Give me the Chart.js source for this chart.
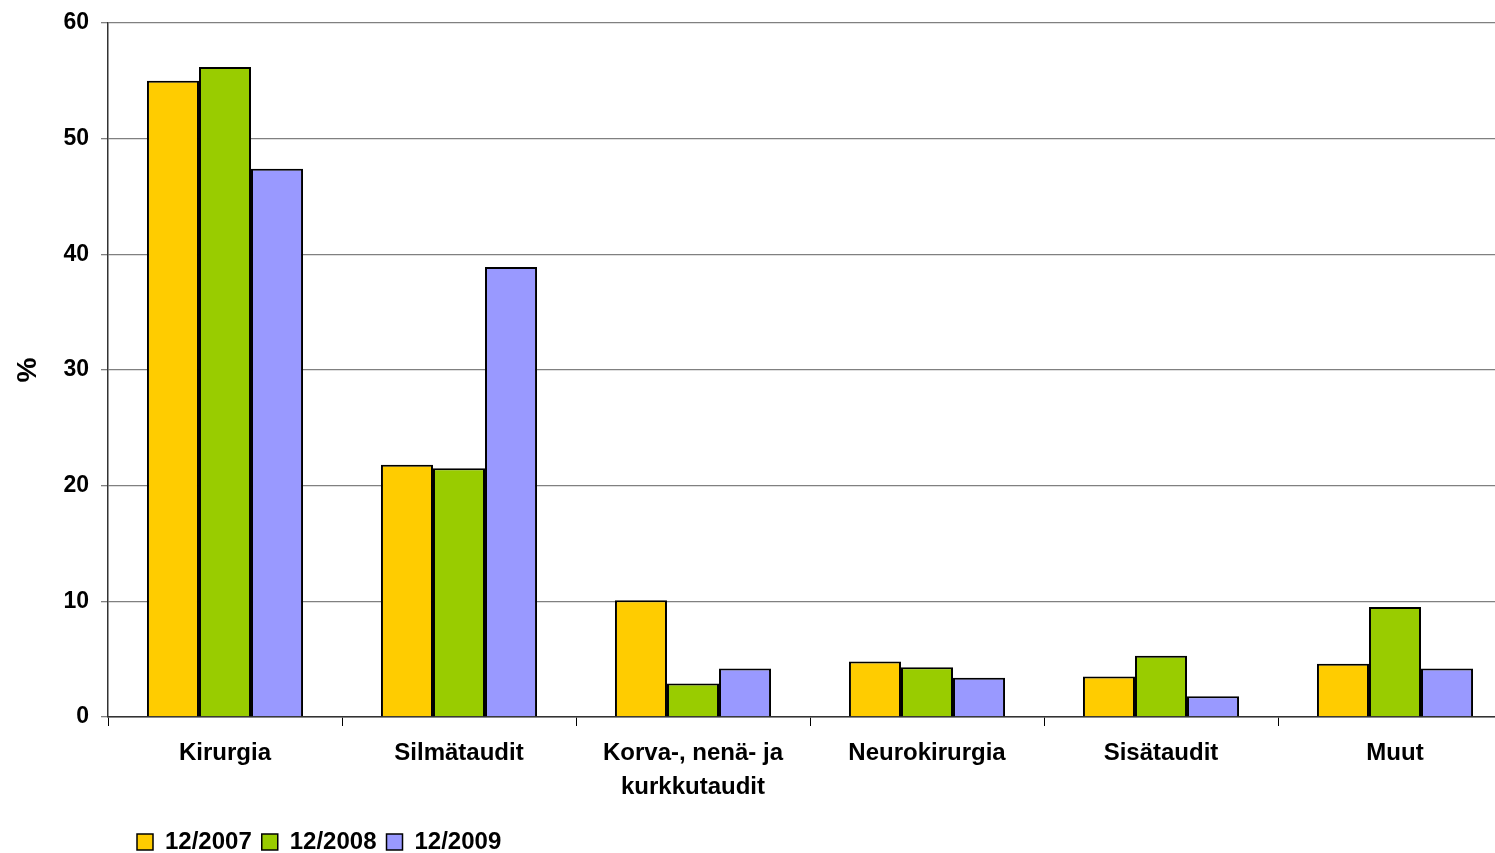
<!DOCTYPE html>
<html lang="fi">
<head>
  <title>Erikoisalat</title>
  <meta charset="utf-8">
  <style>
    html, body { margin: 0; padding: 0; background: #fff; overflow: hidden; }
    #wrap { width: 1495px; height: 853px; overflow: hidden; }
  </style>
</head>
<body>
  <div id="wrap">
    <canvas id="myChart" width="1520" height="864"></canvas>
  </div>

  <script src="https://cdn.jsdelivr.net/npm/chart.js@4/dist/chart.umd.min.js"></script>
  <script>
    // data (%)
    var categories = ['Kirurgia', 'Silmätaudit', ['Korva-, nenä- ja', 'kurkkutaudit'], 'Neurokirurgia', 'Sisätaudit', 'Muut'];
    var seriesNames = ['12/2007', '12/2008', '12/2009'];
    var values2007 = [55.0, 21.8, 10.1, 4.8, 3.5, 4.6];
    var values2008 = [56.2, 21.5, 2.9, 4.3, 5.3, 9.5];
    var values2009 = [47.4, 38.9, 4.2, 3.4, 1.8, 4.2];
    var seriesColors = ['#FFCC00', '#99CC00', '#9999FF'];

    var fontFamily = '"Liberation Sans", Arial, sans-serif';
    var seriesValues = [values2007, values2008, values2009];

    // push the legend right, like in the original sheet
    var legendShift = {
      id: 'legendShift',
      afterLayout: function(chart) {
        chart.legend.left += 127;
      }
    };

    var ctx = document.getElementById('myChart').getContext('2d');
    var chart = new Chart(ctx, {
      type: 'bar',
      data: {
        labels: categories,
        datasets: seriesNames.map(function(name, i) {
          return {
            label: name,
            data: seriesValues[i],
            backgroundColor: seriesColors[i],
            borderColor: '#000',
            borderWidth: 2,
            borderSkipped: 'bottom',
            categoryPercentage: 0.667,
            barPercentage: 1.0
          };
        })
      },
      options: {
        responsive: false,
        animation: false,
        devicePixelRatio: 1,
        layout: { padding: { left: 0, top: 23, right: 8, bottom: 0 } },
        plugins: {
          tooltip: { enabled: false },
          legend: {
            position: 'bottom',
            align: 'start',
            labels: {
              color: '#000',
              font: { family: fontFamily, size: 24, weight: 'bold' },
              boxWidth: 16,
              boxHeight: 16,
              padding: 10,
              generateLabels: function(c) {
                return c.data.datasets.map(function(ds, i) {
                  return {
                    text: ds.label,
                    fillStyle: ds.backgroundColor,
                    strokeStyle: '#000',
                    lineWidth: 1.5,
                    fontColor: '#000',
                    datasetIndex: i
                  };
                });
              }
            }
          }
        },
        scales: {
          x: {
            afterFit: function(scale) {
              scale.height = 103;
              scale.paddingLeft = 0;
              scale.paddingRight = 0;
            },
            grid: {
              drawOnChartArea: false,
              drawTicks: true,
              tickLength: 9,
              color: '#000',
              lineWidth: 1
            },
            border: { color: '#333', width: 1.5 },
            ticks: {
              color: '#000',
              padding: 10,
              maxRotation: 0,
              autoSkip: false,
              font: { family: fontFamily, size: 24, weight: 'bold', lineHeight: 1.42 }
            }
          },
          y: {
            min: 0,
            max: 60,
            afterFit: function(scale) {
              scale.width = 108;
              scale.paddingTop = 0;
              scale.paddingBottom = 0;
            },
            grid: {
              color: '#808080',
              lineWidth: 1.3,
              tickLength: 7
            },
            border: { color: '#333', width: 1.5 },
            ticks: {
              stepSize: 10,
              color: '#000',
              padding: 12,
              font: { family: fontFamily, size: 23, weight: 'bold' }
            },
            title: {
              display: true,
              text: '%',
              color: '#000',
              padding: { top: 11, bottom: 0 },
              font: { family: fontFamily, size: 28, weight: 'bold' }
            }
          }
        }
      },
      plugins: [legendShift]
    });
  </script>
</body>
</html>
